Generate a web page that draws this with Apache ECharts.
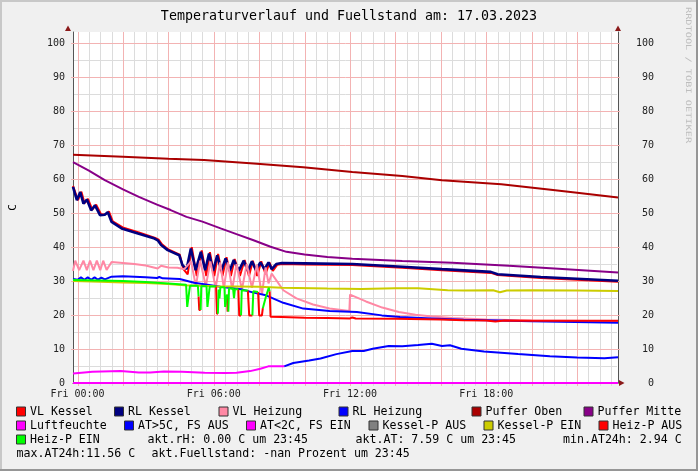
<!DOCTYPE html>
<html><head><meta charset="utf-8">
<script src="https://cdn.jsdelivr.net/npm/echarts@6/dist/echarts.min.js"></script>
<style>html,body{margin:0;padding:0;background:#F0F0F0}#c{width:698px;height:471px}</style>
</head><body><div id="c"></div>
<script>
// ---------- texts / ticks ----------
const chartTitle = 'Temperaturverlauf und Fuellstand am: 17.03.2023';
const yAxisTitle = 'C';
const watermark = 'RRDTOOL / TOBI OETIKER';
const xRange = [-0.2, 23.8];             // hours of Fri (Fri 00:00 = 0)
const xLabelHours = [0, 6, 12, 18];
const xLabelDay = 'Fri';
const xMajorGrid = [0, 2, 4, 6, 8, 10, 12, 14, 16, 18, 20, 22];
const xMinorGrid = [0.5, 1, 1.5, 2.5, 3, 3.5, 4.5, 5, 5.5, 6.5, 7, 7.5, 8.5, 9, 9.5, 10.5, 11, 11.5,
  12.5, 13, 13.5, 14.5, 15, 15.5, 16.5, 17, 17.5, 18.5, 19, 19.5, 20.5, 21, 21.5, 22.5, 23, 23.5];
const yRange = [0, 103.3];
const yLabels = [0, 10, 20, 30, 40, 50, 60, 70, 80, 90, 100];
const yMajorGrid = [10, 20, 30, 40, 50, 60, 70, 80, 90, 100];
const yMinorGrid = [5, 15, 25, 35, 45, 55, 65, 75, 85, 95];

// ---------- series values [hour, value] ----------
const vlKessel = [[-0.2,58.0],[-0.15,57.9],[0.02,53.8],[0.17,56.3],[0.31,52.9],[0.46,54.2],[0.65,51],[0.82,52.5],[1.04,49.6],[1.25,49.7],[1.38,50.5],[1.55,47.6],[1.99,45.8],[2.7,44.3],[3.42,42.7],[3.57,42.2],[3.72,40.8],[4.0,39.3],[4.5,37.8],[4.66,33.5],[4.85,32],[5.03,40],[5.25,31.5],[5.47,39],[5.67,31.5],[5.83,38.5],[6.02,31.5],[6.19,38],[6.38,31.5],[6.56,37],[6.75,31.5],[6.92,36.5],[7.15,31.5],[7.36,36.2],[7.55,31.5],[7.72,36],[7.91,31.5],[8.09,35.8],[8.28,32],[8.45,35.5],[8.6,33],[8.8,34.8],[9.0,35.0],[10,34.9],[12.1,34.7],[14.3,33.9],[16.05,33.2],[18.2,32.4],[18.5,31.8],[20.4,30.9],[23.8,29.8]];
const rlKessel = [[-0.2,57.7],[-0.17,57.7],[-0.03,53.8],[0.12,56.2],[0.26,52.8],[0.41,54],[0.6,50.8],[0.77,52.3],[0.99,49.4],[1.2,49.5],[1.33,50.3],[1.5,47.4],[1.94,45.5],[2.66,44.0],[3.39,42.5],[3.53,42.0],[3.68,40.6],[3.97,39.1],[4.48,37.6],[4.62,34.7],[4.8,33.5],[4.99,39.6],[5.2,33.2],[5.43,38.6],[5.62,33.2],[5.79,38.1],[5.97,33],[6.15,37.6],[6.33,33],[6.52,36.7],[6.7,33],[6.88,36.2],[7.1,33],[7.32,36],[7.5,33],[7.68,35.8],[7.86,33.2],[8.05,35.5],[8.23,33.5],[8.41,35.5],[8.55,33.5],[8.75,35],[9.0,35.3],[10,35.2],[12.1,35.0],[14.3,34.2],[16.05,33.5],[18.2,32.7],[18.5,32.0],[20.4,31.2],[23.8,30.1]];
const vlHeizung = [[-0.2,33],[-0.1,36],[0.07,33.2],[0.26,36],[0.41,33.2],[0.55,36],[0.7,33.2],[0.85,36],[1.0,33.2],[1.13,36],[1.28,33.3],[1.5,35.6],[2.5,35],[3.0,34.6],[3.53,33.7],[3.68,34.5],[4.0,34],[4.4,33.9],[4.7,33.5],[5.0,35.8],[5.21,28.5],[5.4,36],[5.65,28.5],[5.85,35.8],[6.08,28],[6.28,35.5],[6.44,28],[6.62,35.5],[6.81,27.5],[7.0,35],[7.24,27.5],[7.45,35],[7.68,28],[7.9,34.8],[8.12,26],[8.28,34],[8.41,29.3],[8.55,32.2],[9.06,27.3],[9.64,24.9],[10.37,23.1],[11.1,21.9],[11.97,21.2],[12.0,26.0],[12.04,26.0],[12.7,24],[13.42,22.2],[14.15,20.9],[14.88,20.1],[15.6,19.6],[16.5,19.1],[18,18.7],[20,18.4],[23.8,18.2]];
const rlHeizung = [[-0.2,30.6],[-0.15,31.1],[0,30.4],[0.15,31.1],[0.3,30.4],[0.45,31.1],[0.6,30.4],[0.75,31.1],[0.9,30.4],[1.05,31.0],[1.2,30.5],[1.5,31.3],[2.0,31.4],[3.0,31.1],[3.5,30.9],[3.6,31.2],[3.75,30.8],[4.5,30.6],[5.13,29.5],[6.3,28.3],[7.2,27.6],[7.75,26.6],[8.3,25.8],[9.06,23.6],[9.94,21.9],[11.1,21.2],[12.3,20.9],[13.4,19.9],[14.2,19.4],[15.6,19.0],[17,18.6],[20,18.2],[23.8,17.7]];
const pufferOben = [[-0.2,67.2],[2,66.6],[4,66.0],[5.57,65.6],[7.75,64.6],[9.94,63.5],[12.1,62.1],[14.3,60.9],[16.05,59.7],[18.66,58.5],[20.84,56.9],[22,56.0],[23.8,54.6]];
const pufferMitte = [[-0.2,65],[0.5,62.5],[1.2,59.7],[2,57],[2.7,54.8],[3.5,52.5],[4.1,50.9],[4.8,48.9],[5.5,47.5],[6.3,45.5],[7,43.8],[7.75,42],[8.5,40.1],[9.2,38.6],[10,37.8],[11,37.1],[12.1,36.6],[14.3,35.9],[16.5,35.4],[19,34.5],[21,33.7],[23.8,32.5]];
const luftfeuchte = [[-0.2,0],[23.8,0]];
// outside temperature: [hour, value, state]  state 1 = AT>5C FS AUS, 0 = AT<2C FS EIN
const aussenTemp = [[-0.2,2.8,0],[0.3,3.1,0],[0.65,3.3,0],[1.9,3.5,0],[2.7,3.1,0],[3.2,3.1,0],[3.8,3.4,0],[4.6,3.3,0],[5.6,3.0,0],[6.5,2.94,0],[7.0,3.0,0],[7.6,3.5,0],[8.05,4.2,0],[8.4,4.9,0],[9.1,4.9,0],[9.5,5.9,1],[10.2,6.6,1],[10.7,7.2,1],[11.4,8.5,1],[12.1,9.4,1],[12.6,9.4,1],[13,10.1,1],[13.7,10.9,1],[14.3,10.8,1],[15.0,11.2,1],[15.6,11.56,1],[16.05,10.9,1],[16.4,11.1,1],[16.9,10.1,1],[17.9,9.3,1],[19.4,8.5,1],[20.8,7.9,1],[22,7.5,1],[23.2,7.3,1],[23.8,7.59,1]];
// boiler pump: [hour, value, state]  state 1 = EIN, 0 = AUS
const kesselP = [[-0.2,30.0,1],[1,29.8,1],[2,29.6,1],[3,29.4,1],[4,29.1,1],[4.7,28.8,1],[6,28.5,1],[8,28.3,1],[9,28.0,1],[11,27.8,1],[12.5,27.7,1],[14,27.9,1],[15,27.9,1],[16.3,27.3,1],[17,27.2,1],[18.3,27.3,1],[18.6,26.7,1],[18.9,27.2,1],[20,27.3,1],[22,27.2,1],[23.8,27.1,1]];
// heating pump: [hour, value, state]  state 1 = EIN, 0 = AUS
const heizP = [[-0.2,30.3,1],[1,30.2,1],[2,30.0,1],[3,29.7,1],[4,29.3,1],[4.78,28.9,1],[4.83,22.4,1],[4.9,22.4,1],[4.95,28.6,1],[5.3,28.6,1],[5.33,25.5,1],[5.36,21.5,0],[5.42,21.5,0],[5.45,28.5,1],[5.68,28.5,1],[5.72,22.4,1],[5.78,22.4,1],[5.82,28.4,1],[6.1,28.4,1],[6.14,20.4,0],[6.18,20.4,0],[6.21,27.5,1],[6.25,24.9,1],[6.29,28.2,1],[6.47,28.2,1],[6.5,22.4,1],[6.55,22.4,1],[6.58,26,1],[6.61,21,0],[6.64,21,0],[6.67,27.8,1],[6.85,27.8,1],[6.89,25,1],[6.93,27.6,1],[7.08,27.6,1],[7.12,19.9,0],[7.2,19.9,0],[7.23,27.3,1],[7.5,27.2,1],[7.56,19.9,0],[7.7,19.9,0],[7.74,27,1],[7.95,26.8,1],[8.0,19.9,0],[8.12,19.9,0],[8.16,22,0],[8.3,25.5,1],[8.42,28,1],[8.46,27,1],[8.5,19.5,0],[9,19.4,0],[10,19.2,0],[11,19.1,0],[12,19.0,0],[12.1,19.3,0],[12.25,19.0,0],[14,18.9,0],[16,18.7,0],[17,18.5,0],[18,18.4,0],[18.4,18.1,0],[18.8,18.4,0],[20,18.3,0],[22,18.3,0],[23.8,18.3,0]];

const legendRows = [
  ['VL Kessel','RL Kessel','VL Heizung','RL Heizung','Puffer Oben','Puffer Mitte'],
  ['Luftfeuchte','AT>5C, FS AUS','AT<2C, FS EIN','Kessel-P AUS','Kessel-P EIN','Heiz-P AUS'],
  ['Heiz-P EIN']
];
const infoTexts = [
  ['akt.rH: 0.00 C um 23:45', 'akt.AT: 7.59 C um 23:45', 'min.AT24h: 2.94 C'],
  ['max.AT24h:11.56 C', 'akt.Fuellstand: -nan Prozent um 23:45']
];

// ---------- styles ----------
const colors = {
  'VL Kessel':'#FF0000','RL Kessel':'#000080','VL Heizung':'#FF88A4','RL Heizung':'#0000FF',
  'Puffer Oben':'#AA0000','Puffer Mitte':'#880088','Luftfeuchte':'#FF00FF','AT>5C, FS AUS':'#0000FF',
  'AT<2C, FS EIN':'#FF00FF','Kessel-P AUS':'#808080','Kessel-P EIN':'#CCCC00','Heiz-P AUS':'#FF0000',
  'Heiz-P EIN':'#00FF00'
};
const MONO = '"DejaVu Sans Mono", monospace';
const GRID_MINOR = '#DCDCDC';
const GRID_MAJOR = '#F3B3B3';
// the x axis runs in hours since Thu 00:00 so that its range does not cross zero
const X0 = 24;
const X = h => h + X0;

function pt(p) { return [X(p[0]), p[1]]; }
function pts(arr) { return arr.map(pt); }
function byState(path, want) {
  const out = []; let last = -2;
  for (let i = 1; i < path.length; i++) {
    if (path[i][2] === want) {
      if (last !== i - 1) { if (out.length) out.push([X(path[i-1][0]), '-']); out.push(pt(path[i-1])); }
      out.push(pt(path[i])); last = i;
    }
  }
  return out;
}
function line(name, data, width, extra) {
  return Object.assign({
    type: 'line', name, data, showSymbol: false, symbol: 'none', animation: false,
    xAxisIndex: 0, yAxisIndex: 0, connectNulls: false, z: 3,
    lineStyle: { color: colors[name], width: width || 2 }, itemStyle: { color: colors[name] }
  }, extra || {});
}
// grid lines drawn through the axes' own scale (custom series)
function vGrid(values, color, tick) {
  return { type:'custom', silent:true, animation:false, z:1, clip:false,
    data: values.map(v => [X(v), yRange[0]]),
    renderItem: (params, api) => {
      const b = api.coord([api.value(0), yRange[0]]);
      const t = api.coord([api.value(0), yRange[1]]);
      const x = Math.round(b[0]) + 0.5;
      return { type:'line', shape:{ x1:x, y1:t[1], x2:x, y2:b[1] + tick }, style:{ stroke:color, lineWidth:1 } };
    } };
}
function hGrid(values, color, tick) {
  return { type:'custom', silent:true, animation:false, z:1, clip:false,
    data: values.map(v => [X(xRange[0]), v]),
    renderItem: (params, api) => {
      const l = api.coord([X(xRange[0]), api.value(1)]);
      const r = api.coord([X(xRange[1]), api.value(1)]);
      const y = Math.round(l[1]) + 0.5;
      return { type:'line', shape:{ x1:l[0] + 1 - tick, y1:y, x2:r[0] - 1 + tick, y2:y }, style:{ stroke:color, lineWidth:1 } };
    } };
}

const series = [
  hGrid(yMinorGrid, GRID_MINOR, 0),
  vGrid(xMinorGrid, GRID_MINOR, 3),
  hGrid(yMajorGrid, GRID_MAJOR, 3),
  vGrid(xMajorGrid, GRID_MAJOR, 3),
  line('VL Kessel', pts(vlKessel), 2),
  line('RL Kessel', pts(rlKessel), 2.6),
  line('VL Heizung', pts(vlHeizung), 2),
  line('RL Heizung', pts(rlHeizung), 2),
  line('Puffer Oben', pts(pufferOben), 2),
  line('Puffer Mitte', pts(pufferMitte), 2),
  line('Luftfeuchte', pts(luftfeuchte), 2, { clip: false }),
  line('AT>5C, FS AUS', byState(aussenTemp, 1), 2),
  line('AT<2C, FS EIN', byState(aussenTemp, 0), 2),
  line('Kessel-P AUS', byState(kesselP, 0), 2),
  line('Kessel-P EIN', byState(kesselP, 1), 2),
  line('Heiz-P AUS', byState(heizP, 0), 2),
  line('Heiz-P EIN', byState(heizP, 1), 2)
];

// ---------- graphic (frame, title, legend, arrows) ----------
const graphic = [
  { type:'rect', shape:{x:0,y:0,width:698,height:2}, style:{fill:'#C8C8C8'}, silent:true },
  { type:'rect', shape:{x:0,y:0,width:2,height:471}, style:{fill:'#C8C8C8'}, silent:true },
  { type:'rect', shape:{x:0,y:469,width:698,height:2}, style:{fill:'#969696'}, silent:true },
  { type:'rect', shape:{x:696,y:0,width:2,height:471}, style:{fill:'#969696'}, silent:true },
  { type:'text', x:349, y:17, style:{ text: chartTitle, fill:'#000', fontSize:13.3, fontFamily:MONO, align:'center', verticalAlign:'middle' } },
  { type:'text', x:688, y:7, rotation:-Math.PI/2, scaleX:1.37, style:{ text: watermark, fill:'#BDBDBD', fontSize:7.5, fontFamily:MONO, align:'left', verticalAlign:'middle' } },
  { type:'polygon', shape:{points:[[65,31],[71,31],[68,25.5]]}, style:{fill:'#8B1A1A'}, z:10 },
  { type:'polygon', shape:{points:[[615,31],[621,31],[618,25.5]]}, style:{fill:'#8B1A1A'}, z:10 },
  { type:'polygon', shape:{points:[[619,380],[619,386],[624.5,383]]}, style:{fill:'#8B1A1A'}, z:10 }
];
const legendX = [
  [16, 114, 218.5, 338.5, 471.5, 583.5],
  [16, 124, 246, 368.5, 483.5, 598.5],
  [16]
];
const rowY = [411.5, 425.5, 439.5, 453.5];
legendRows.forEach((row, r) => row.forEach((name, i) => {
  const x = legendX[r][i];
  graphic.push({ type:'rect', shape:{x:x+0.5, y:rowY[r]-4.5, width:9, height:9}, style:{fill:colors[name], stroke:'#333', lineWidth:1} });
  graphic.push({ type:'text', x:x+14, y:rowY[r], style:{ text:name, fill:'#000', fontSize:11.6, fontFamily:MONO, align:'left', verticalAlign:'middle' } });
}));
const infoX = [[147.5, 355.5, 563], [16.5, 151.5]];
infoTexts.forEach((row, r) => row.forEach((t, i) => {
  graphic.push({ type:'text', x:infoX[r][i], y:rowY[r+2], style:{ text:t, fill:'#000', fontSize:11.6, fontFamily:MONO, align:'left', verticalAlign:'middle' } });
}));

function hh(v) { return xLabelDay + ' ' + String(Math.round(v - X0)).padStart(2, '0') + ':00'; }

const axisLabelStyle = { fontFamily: MONO, fontSize: 10, color: '#222' };
const option = {
  backgroundColor: '#F0F0F0',
  animation: false,
  grid: { left: 68, right: 80, top: 32, bottom: 88, show: true, backgroundColor: '#FFFFFF', borderWidth: 0 },
  xAxis: [
    { type:'value', min:X(xRange[0]), max:X(xRange[1]), position:'bottom',
      axisLine:{ show:true, onZero:false, lineStyle:{ color:'#555', width:1 } },
      axisTick:{ show:false },
      axisLabel:Object.assign({ customValues:xLabelHours.map(X), formatter:hh, margin:6 }, axisLabelStyle),
      splitLine:{ show:false } }
  ],
  yAxis: [
    { type:'value', min:yRange[0], max:yRange[1], position:'left',
      name: yAxisTitle, nameLocation:'middle', nameGap:54, nameRotate:90,
      nameTextStyle:{ fontFamily:MONO, fontSize:11, color:'#000' },
      axisLine:{ show:true, onZero:false, lineStyle:{ color:'#555', width:1 } },
      axisTick:{ show:false },
      axisLabel:Object.assign({ customValues:yLabels, margin:8 }, axisLabelStyle),
      splitLine:{ show:false } },
    { type:'value', min:yRange[0], max:yRange[1], position:'right',
      axisLine:{ show:true, onZero:false, lineStyle:{ color:'#555', width:1 } },
      axisTick:{ show:false },
      axisLabel:Object.assign({ customValues:yLabels, margin:36, align:'right' }, axisLabelStyle),
      splitLine:{ show:false } }
  ],
  series: series,
  graphic: graphic
};
const chart = echarts.init(document.getElementById('c'), null, { renderer: 'canvas' });
chart.setOption(option);
</script>
</body></html>
